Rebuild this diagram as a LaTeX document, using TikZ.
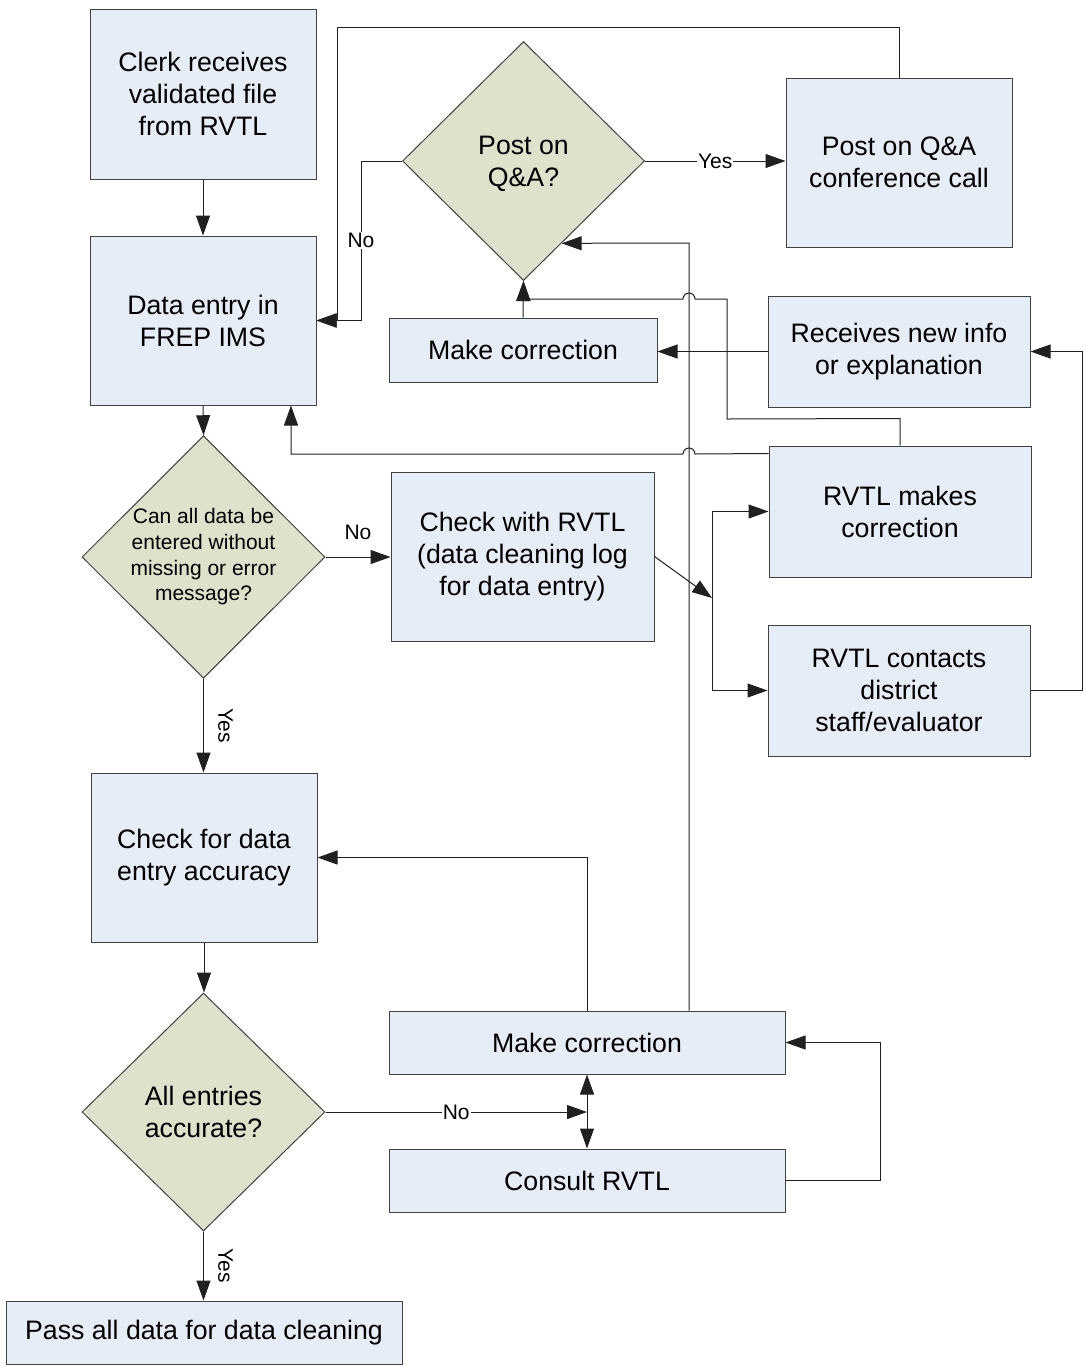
\documentclass[tikz,border=0pt]{standalone}
\usepackage{fontspec}
\setmainfont{Liberation Sans}
\usetikzlibrary{shapes.geometric,arrows.meta,calc}
\definecolor{boxfill}{HTML}{E6EDF7}
\definecolor{diafill}{HTML}{DEE1CC}
\definecolor{edge}{HTML}{404040}
\definecolor{conn}{HTML}{202020}
\tikzset{
  procbox/.style={draw=edge, fill=boxfill, line width=1pt, inner sep=0pt, align=center,
    font=\fontsize{26.7}{32}\selectfont},
  decide/.style={diamond, draw=edge, fill=diafill, line width=1pt, inner sep=0pt, align=center,
    font=\fontsize{26.7}{32}\selectfont},
  conline/.style={draw=conn, line width=1pt},
  arr/.style={conline, -{Triangle[length=20pt,width=14pt]}},
  arrboth/.style={conline, {Triangle[length=20pt,width=14pt]}-{Triangle[length=20pt,width=14pt]}},
  lab/.style={fill=white, inner sep=1pt, font=\fontsize{21}{25}\selectfont},
  plainlab/.style={inner sep=1pt, font=\fontsize{21}{25}\selectfont},
}
\begin{document}
\begin{tikzpicture}[x=1pt,y=-1pt]
\useasboundingbox (0,0) rectangle (1086,1366);
% nodes
\node[procbox, minimum width=226pt, minimum height=170pt] (clerk) at (203,94) {Clerk receives\\validated file\\from RVTL};
\node[procbox, minimum width=226pt, minimum height=169pt] (entry) at (203,320.5) {Data entry in\\FREP IMS};
\node[decide, minimum width=243pt, minimum height=238pt, font=\fontsize{21}{25.7}\selectfont] (q1) at (203.5,557) {Can all data be\\entered without\\missing or error\\message?};
\node[procbox, minimum width=226pt, minimum height=169pt] (acc) at (204,857.5) {Check for data\\entry accuracy};
\node[decide, minimum width=243pt, minimum height=238pt] (q2) at (203.5,1112) {All entries\\accurate?};
\node[procbox, minimum width=396pt, minimum height=63pt] (pass) at (204,1332.5) {Pass all data for data cleaning};
\node[decide, minimum width=242pt, minimum height=239pt] (qa) at (523.5,161) {\rule{0pt}{25pt}Post on\\Q\&A?};
\node[procbox, minimum width=226pt, minimum height=169pt] (conf) at (899,162.5) {Post on Q\&A\\conference call};
\node[procbox, minimum width=268pt, minimum height=64pt] (mc1) at (523,350) {Make correction};
\node[procbox, minimum width=262pt, minimum height=111pt] (recv) at (899,351.5) {Receives new info\\or explanation};
\node[procbox, minimum width=262pt, minimum height=131pt] (rmc) at (900,511.5) {RVTL makes\\correction};
\node[procbox, minimum width=263pt, minimum height=169pt] (chk) at (522.5,556.5) {Check with RVTL\\(data cleaning log\\for data entry)};
\node[procbox, minimum width=262pt, minimum height=131pt] (rcd) at (899,690.5) {RVTL contacts\\district\\staff/evaluator};
\node[procbox, minimum width=396pt, minimum height=63pt] (mc2) at (587,1042.5) {Make correction};
\node[procbox, minimum width=396pt, minimum height=63pt] (cons) at (587,1180.5) {Consult RVTL};
% helper coordinates
\coordinate (topline) at (337,27);
\coordinate (split) at (712,598);
% main column
\draw[arr] (clerk.south) -- (entry.north);
\draw[arr] (entry.south) -- (q1.north);
\draw[arr] (q1.south) -- (q1.south |- acc.north);
\path (q1.south) -- (q1.south |- acc.north) node[midway, xshift=22pt, rotate=-90, plainlab] {Yes};
\draw[arr] (acc.south) -- (acc.south |- q2.north);
\draw[arr] (q2.south) -- (q2.south |- pass.north);
\path (q2.south) -- (q2.south |- pass.north) node[midway, xshift=22pt, rotate=-90, plainlab] {Yes};
% q1 -> check with RVTL
\draw[arr] (q1.east) -- node[midway, yshift=25pt, plainlab] {No} (q1.east -| chk.west);
\draw[arr] (chk.east) -- (split);
\draw[arr] (split) |- (rmc.west);
\draw[arr] (split) |- (rcd.west);
% Post on Q&A
\draw[arr] (qa.west) -- ++(-41,0) |- node[pos=0.25, lab] {No} (entry.east);
\draw[arr] (qa.east) -- node[midway, lab] {Yes} (qa.east -| conf.west);
\draw[arr] (conf.north) -- (conf.north |- topline) -- (topline) -- (topline |- entry.east) -- (entry.east);
\draw[arr] (mc1.north) -- (qa.south);
\draw[arr] (recv.west) -- (recv.west -| mc1.east);
\draw[arr] (rmc.north) -- ($(rmc.north)+(0,-27)$) -- (727,419) -- (727,299) -- (695,299)
  arc[start angle=0, end angle=-180, radius=6] -- (523.5,299) -- (qa.south);
\draw[arr] ([yshift=-8pt]rmc.north west) -- (695,454)
  arc[start angle=0, end angle=-180, radius=6] -- (291,454) -- ([xshift=88pt]entry.south);
\draw[arr] (rcd.east) -- ++(52,0) |- (recv.east);
% bottom loop
\draw[arr] (mc2.north) -- (mc2.north |- acc.east) -- (acc.east);
\draw[arr] ([xshift=102pt]mc2.north) -- (689,243) -- ($(qa.east)!0.686!(qa.south)$);
\draw[arr] (q2.east) -- node[midway, lab] {No} (mc2.south |- q2.east);
\draw[arrboth] (mc2.south) -- (cons.north);
\draw[arr] (cons.east) -- ++(95,0) |- (mc2.east);
\end{tikzpicture}
\end{document}
